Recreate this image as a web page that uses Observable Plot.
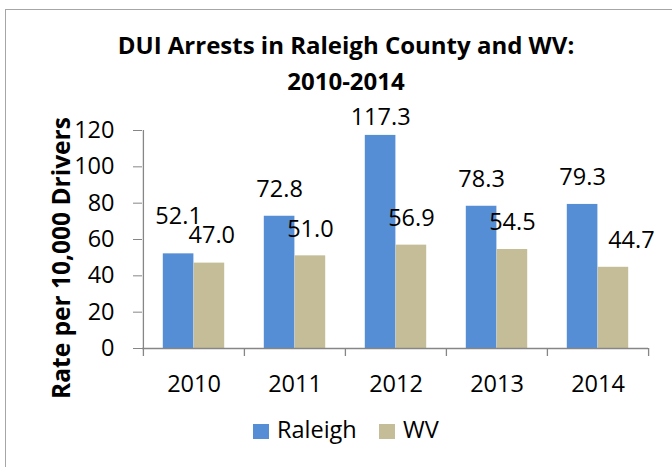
<!DOCTYPE html>
<html><head><meta charset="utf-8">
<script src="https://cdn.jsdelivr.net/npm/d3@7"></script>
<script src="https://cdn.jsdelivr.net/npm/@observablehq/plot@0.6"></script>
<style>
html,body{margin:0;padding:0;background:#fff;overflow:hidden;width:672px;height:467px;}
body{position:relative;font-family:"Open Sans",sans-serif;color:#000;}
#frame{position:absolute;left:5px;top:9px;width:2000px;height:2000px;border-left:1.5px solid #a6a6a6;border-top:1.5px solid #a6a6a6;}
#title{position:absolute;left:0;top:27px;width:692px;text-align:center;font-weight:700;font-size:24px;line-height:36.4px;}
#chart{position:absolute;left:0;top:100px;}
#legend{position:absolute;left:0;top:413px;width:692px;text-align:center;font-size:23.5px;line-height:32px;white-space:nowrap;}
#legend .sw{display:inline-block;width:15.5px;height:15.5px;margin-right:8.3px;vertical-align:baseline;margin-bottom:-1px;}
#legend .item{display:inline-block;}
#legend .item + .item{margin-left:22.5px;}
</style>
</head><body>
<div id="frame"></div>
<div id="title">DUI Arrests in Raleigh County and WV:<br>2010-2014</div>
<div id="chart"></div>
<div id="legend"></div>
<script>
const years = ["2010", "2011", "2012", "2013", "2014"];
const series = ["Raleigh", "WV"];
const raleigh = [52.1, 72.8, 117.3, 78.3, 79.3];
const wv = [47.0, 51.0, 56.9, 54.5, 44.7];
const yTicks = [0, 20, 40, 60, 80, 100, 120];
const yLabel = "Rate per 10,000 Drivers";

const colors = {Raleigh: "#558ED5", WV: "#C4BD97"};
const gray = "#868686";

const W = 672, ML = 142, MR = 24, MT = 30, PH = 218, MB = 60;
const H = MT + PH + MB;
const bw = (W - ML - MR) / years.length;
const pad = 19.8, barW = 30.8;

const rows = years.flatMap((yr, i) => [
  {year: yr, series: "Raleigh", value: raleigh[i]},
  {year: yr, series: "WV", value: wv[i]}
]);

const barInsets = {
  Raleigh: {insetLeft: pad, insetRight: bw - pad - barW},
  WV: {insetLeft: pad + barW, insetRight: bw - pad - 2 * barW}
};
const centerOffset = {
  Raleigh: pad + barW / 2 - bw / 2,
  WV: pad + 1.5 * barW - bw / 2
};
const nudge = {
  "2010 Raleigh": {dx: 0, dy: -10.7},
  "2010 WV": {dx: 2.4, dy: -1},
  "2012 Raleigh": {dx: 0, dy: 8.5},
  "2014 WV": {dx: 18, dy: 0}
};

const chart = Plot.plot({
  width: W, height: H,
  marginLeft: ML, marginRight: MR, marginTop: MT, marginBottom: MB,
  style: {fontFamily: "Open Sans, sans-serif", fontSize: "23.5px", color: "black", background: "transparent", overflow: "visible"},
  x: {type: "band", domain: years, padding: 0, label: null},
  y: {domain: [0, 120], label: null},
  color: {domain: series, range: series.map(s => colors[s])},
  marks: [
    ...series.map(s => Plot.barY(rows.filter(d => d.series === s), {x: "year", y: "value", fill: "series", ...barInsets[s]})),
    Plot.ruleY([0], {stroke: gray, strokeWidth: 1.3}),
    Plot.ruleX([years[0]], {dx: -bw / 2, stroke: gray, strokeWidth: 1.3}),
    Plot.ruleX(years, {dx: -bw / 2, insetTop: PH, insetBottom: -8, stroke: gray, strokeWidth: 1.3}),
    Plot.ruleX([years[years.length - 1]], {dx: bw / 2, insetTop: PH, insetBottom: -8, stroke: gray, strokeWidth: 1.3}),
    Plot.axisY({ticks: yTicks, tickSize: 9, tickPadding: 19, stroke: gray, fill: "black", label: null, fontSize: 23.5}),
    Plot.axisX({tickSize: 0, tickPadding: 27, label: null, fill: "black", fontSize: 23.5}),
    ...rows.map(d => {
      const n = nudge[d.year + " " + d.series] || {dx: 0, dy: 0};
      return Plot.text([d], {x: "year", y: "value", text: r => r.value.toFixed(1),
        dx: centerOffset[d.series] + n.dx, dy: -26.7 + n.dy, lineAnchor: "middle", fontSize: 23.5, fill: "black"});
    }),
    Plot.text([yLabel], {frameAnchor: "left", textAnchor: "middle", rotate: -90, dx: -80.5, dy: 18.5, text: d => d,
      fontWeight: "bold", fontSize: 24.5, fill: "black"})
  ]
});
document.getElementById("chart").appendChild(chart);

const legend = document.getElementById("legend");
series.forEach(s => {
  const item = document.createElement("span");
  item.className = "item";
  const sw = document.createElement("span");
  sw.className = "sw";
  sw.style.background = colors[s];
  item.appendChild(sw);
  item.appendChild(document.createTextNode(s));
  legend.appendChild(item);
});
</script>
</body></html>
